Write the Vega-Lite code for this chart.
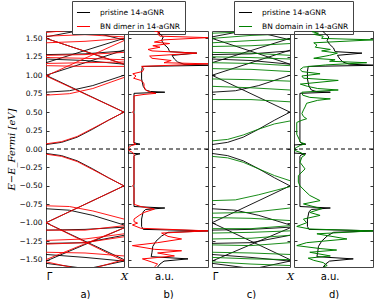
{
"$schema":"https://vega.github.io/schema/vega-lite/v6.json",
"autosize":{"type":"pad"},
"padding":{"left":5,"top":0,"right":0,"bottom":0},
"background":"white",
"config":{"font":"DejaVu Sans","view":{"stroke":"#444","strokeWidth":1},"axis":{"grid":false}},
"datasets":{
"bandP":[
{"b":"P1","k":0,"E":0.06},{"b":"P1","k":0.2,"E":0.09},{"b":"P1","k":0.4,"E":0.16},{"b":"P1","k":0.6,"E":0.27},{"b":"P1","k":0.8,"E":0.39},{"b":"P1","k":1,"E":0.5},
{"b":"P2","k":0,"E":1.0},{"b":"P2","k":1,"E":0.5},
{"b":"P3","k":0,"E":0.77},{"b":"P3","k":0.3,"E":0.79},{"b":"P3","k":0.6,"E":0.86},{"b":"P3","k":1,"E":1.0},
{"b":"P4","k":0,"E":1.0},{"b":"P4","k":1,"E":1.34},
{"b":"P5","k":0,"E":1.17},{"b":"P5","k":1,"E":1.5},
{"b":"P6","k":0,"E":1.5},{"b":"P6","k":1,"E":1.15},
{"b":"P7","k":0,"E":1.28},{"b":"P7","k":0.5,"E":1.29},{"b":"P7","k":1,"E":1.33},
{"b":"P8","k":0,"E":1.22},{"b":"P8","k":0.5,"E":1.2},{"b":"P8","k":1,"E":1.15},
{"b":"P9","k":0,"E":1.52},{"b":"P9","k":0.5,"E":1.62},
{"b":"P10","k":0.45,"E":1.62},{"b":"P10","k":1,"E":1.48},
{"b":"N1","k":0,"E":-0.06},{"b":"N1","k":0.2,"E":-0.09},{"b":"N1","k":0.4,"E":-0.16},{"b":"N1","k":0.6,"E":-0.27},{"b":"N1","k":0.8,"E":-0.39},{"b":"N1","k":1,"E":-0.5},
{"b":"N2","k":0,"E":-1.0},{"b":"N2","k":1,"E":-0.5},
{"b":"N3","k":0,"E":-0.81},{"b":"N3","k":0.3,"E":-0.83},{"b":"N3","k":0.6,"E":-0.9},{"b":"N3","k":1,"E":-1.03},
{"b":"N4","k":0,"E":-1.0},{"b":"N4","k":1,"E":-1.5},
{"b":"N5","k":0,"E":-1.52},{"b":"N5","k":1,"E":-1.07},
{"b":"N6","k":0,"E":-1.28},{"b":"N6","k":0.5,"E":-1.27},{"b":"N6","k":1,"E":-1.17},
{"b":"N7","k":0,"E":-1.1},{"b":"N7","k":0.5,"E":-1.09},{"b":"N7","k":1,"E":-1.06},
{"b":"N8","k":0,"E":-1.43},{"b":"N8","k":0.5,"E":-1.47},{"b":"N8","k":1,"E":-1.52},
{"b":"N9","k":0,"E":-1.55},{"b":"N9","k":0.5,"E":-1.62},
{"b":"N10","k":0.55,"E":-1.62},{"b":"N10","k":1,"E":-1.52}
],
"bandD":[
{"b":"D1","k":0,"E":0.07},{"b":"D1","k":0.2,"E":0.1},{"b":"D1","k":0.4,"E":0.17},{"b":"D1","k":0.6,"E":0.28},{"b":"D1","k":0.8,"E":0.39},{"b":"D1","k":1,"E":0.5},
{"b":"D2","k":0,"E":0.99},{"b":"D2","k":1,"E":0.5},
{"b":"D3","k":0,"E":0.73},{"b":"D3","k":0.3,"E":0.75},{"b":"D3","k":0.6,"E":0.82},{"b":"D3","k":1,"E":0.97},
{"b":"D4","k":0,"E":0.99},{"b":"D4","k":1,"E":1.47},
{"b":"D5","k":0,"E":1.13},{"b":"D5","k":0.5,"E":1.12},{"b":"D5","k":1,"E":1.12},
{"b":"D6","k":0,"E":1.16},{"b":"D6","k":0.5,"E":1.17},{"b":"D6","k":1,"E":1.18},
{"b":"D7","k":0,"E":1.24},{"b":"D7","k":0.5,"E":1.23},{"b":"D7","k":1,"E":1.21},
{"b":"D8","k":0,"E":1.27},{"b":"D8","k":0.5,"E":1.28},{"b":"D8","k":1,"E":1.31},
{"b":"D9","k":0,"E":1.5},{"b":"D9","k":1,"E":1.15},
{"b":"D10","k":0,"E":1.53},{"b":"D10","k":0.5,"E":1.55},{"b":"D10","k":1,"E":1.52},
{"b":"D11","k":0,"E":1.44},{"b":"D11","k":0.5,"E":1.46},{"b":"D11","k":1,"E":1.5},
{"b":"D12","k":0,"E":1.58},{"b":"D12","k":0.4,"E":1.62},
{"b":"DN1","k":0,"E":-0.07},{"b":"DN1","k":0.2,"E":-0.1},{"b":"DN1","k":0.4,"E":-0.17},{"b":"DN1","k":0.6,"E":-0.28},{"b":"DN1","k":0.8,"E":-0.39},{"b":"DN1","k":1,"E":-0.5},
{"b":"DN2","k":0,"E":-1.0},{"b":"DN2","k":1,"E":-0.5},
{"b":"DN3","k":0,"E":-0.77},{"b":"DN3","k":0.3,"E":-0.78},{"b":"DN3","k":0.6,"E":-0.84},{"b":"DN3","k":1,"E":-0.95},
{"b":"DN4","k":0,"E":-1.0},{"b":"DN4","k":1,"E":-1.52},
{"b":"DN5","k":0,"E":-1.1},{"b":"DN5","k":0.5,"E":-1.1},{"b":"DN5","k":1,"E":-1.04},
{"b":"DN6","k":0,"E":-1.24},{"b":"DN6","k":0.5,"E":-1.22},{"b":"DN6","k":1,"E":-1.15},
{"b":"DN7","k":0,"E":-1.29},{"b":"DN7","k":0.5,"E":-1.27},{"b":"DN7","k":1,"E":-1.19},
{"b":"DN8","k":0,"E":-1.4},{"b":"DN8","k":0.5,"E":-1.41},{"b":"DN8","k":1,"E":-1.45},
{"b":"DN9","k":0,"E":-1.5},{"b":"DN9","k":1,"E":-1.07},
{"b":"DN10","k":0,"E":-1.53},{"b":"DN10","k":0.4,"E":-1.62},
{"b":"DN11","k":0.6,"E":-1.62},{"b":"DN11","k":1,"E":-1.5}
],
"bandG":[
{"b":"G1","k":0,"E":0.11},{"b":"G1","k":0.2,"E":0.13},{"b":"G1","k":0.4,"E":0.19},{"b":"G1","k":0.6,"E":0.27},{"b":"G1","k":0.8,"E":0.34},{"b":"G1","k":1,"E":0.38},
{"b":"G2","k":0,"E":0.67},{"b":"G2","k":0.5,"E":0.67},{"b":"G2","k":1,"E":0.64},
{"b":"G3","k":0,"E":0.85},{"b":"G3","k":0.5,"E":0.83},{"b":"G3","k":1,"E":0.8},
{"b":"G4","k":0,"E":0.95},{"b":"G4","k":0.5,"E":0.94},{"b":"G4","k":1,"E":0.92},
{"b":"G5","k":0,"E":1.09},{"b":"G5","k":0.5,"E":1.08},{"b":"G5","k":1,"E":1.05},
{"b":"G6","k":0,"E":1.17},{"b":"G6","k":0.5,"E":1.16},{"b":"G6","k":1,"E":1.13},
{"b":"G7","k":0,"E":1.25},{"b":"G7","k":0.5,"E":1.24},{"b":"G7","k":1,"E":1.22},
{"b":"G8","k":0,"E":1.31},{"b":"G8","k":0.5,"E":1.3},{"b":"G8","k":1,"E":1.27},
{"b":"G9","k":0,"E":1.39},{"b":"G9","k":0.5,"E":1.4},{"b":"G9","k":1,"E":1.43},
{"b":"G10","k":0,"E":1.44},{"b":"G10","k":0.5,"E":1.47},{"b":"G10","k":1,"E":1.49},
{"b":"G11","k":0,"E":1.5},{"b":"G11","k":0.5,"E":1.54},{"b":"G11","k":1,"E":1.56},
{"b":"G12","k":0,"E":1.57},{"b":"G12","k":0.5,"E":1.59},{"b":"G12","k":1,"E":1.58},
{"b":"GN1","k":0,"E":-0.1},{"b":"GN1","k":0.2,"E":-0.12},{"b":"GN1","k":0.4,"E":-0.18},{"b":"GN1","k":0.6,"E":-0.27},{"b":"GN1","k":0.8,"E":-0.36},{"b":"GN1","k":1,"E":-0.43},
{"b":"GN2","k":0,"E":-0.7},{"b":"GN2","k":0.3,"E":-0.69},{"b":"GN2","k":0.6,"E":-0.62},{"b":"GN2","k":1,"E":-0.51},
{"b":"GN3","k":0,"E":-0.87},{"b":"GN3","k":0.5,"E":-0.86},{"b":"GN3","k":1,"E":-0.8},
{"b":"GN4","k":0,"E":-0.93},{"b":"GN4","k":0.5,"E":-0.94},{"b":"GN4","k":1,"E":-0.97},
{"b":"GN5","k":0,"E":-1.08},{"b":"GN5","k":0.5,"E":-1.08},{"b":"GN5","k":1,"E":-1.04},
{"b":"GN6","k":0,"E":-1.14},{"b":"GN6","k":0.5,"E":-1.13},{"b":"GN6","k":1,"E":-1.11},
{"b":"GN7","k":0,"E":-1.22},{"b":"GN7","k":0.5,"E":-1.21},{"b":"GN7","k":1,"E":-1.17},
{"b":"GN8","k":0,"E":-1.3},{"b":"GN8","k":0.5,"E":-1.31},{"b":"GN8","k":1,"E":-1.27},
{"b":"GN9","k":0,"E":-1.4},{"b":"GN9","k":0.5,"E":-1.41},{"b":"GN9","k":1,"E":-1.43},
{"b":"GN10","k":0,"E":-1.47},{"b":"GN10","k":0.5,"E":-1.49},{"b":"GN10","k":1,"E":-1.5},
{"b":"GN11","k":0,"E":-1.53},{"b":"GN11","k":0.5,"E":-1.56},{"b":"GN11","k":1,"E":-1.58}
],
"dosP":[
{"E":-1.6,"v":0.37},{"E":-1.56,"v":0.4},{"E":-1.52,"v":0.45},{"E":-1.49,"v":0.75},{"E":-1.46,"v":0.29},{"E":-1.4,"v":0.3},{"E":-1.32,"v":0.31},{"E":-1.25,"v":0.35},{"E":-1.18,"v":0.42},{"E":-1.13,"v":0.5},{"E":-1.11,"v":1.05},{"E":-1.09,"v":0.19},{"E":-1.05,"v":0.17},{"E":-0.95,"v":0.17},{"E":-0.85,"v":0.19},{"E":-0.82,"v":0.22},{"E":-0.8,"v":0.46},{"E":-0.78,"v":0.075},{"E":-0.1,"v":0.075},{"E":-0.08,"v":0.09},{"E":-0.065,"v":0.15},{"E":-0.055,"v":0},
{"E":0.055,"v":0},{"E":0.065,"v":0.15},{"E":0.08,"v":0.09},{"E":0.1,"v":0.075},{"E":0.755,"v":0.075},{"E":0.77,"v":0.46},{"E":0.78,"v":0.28},{"E":0.8,"v":0.22},{"E":0.85,"v":0.19},{"E":0.95,"v":0.17},{"E":1.05,"v":0.17},{"E":1.12,"v":0.18},{"E":1.135,"v":1.05},{"E":1.15,"v":0.7},{"E":1.18,"v":0.62},{"E":1.22,"v":0.58},{"E":1.27,"v":0.55},{"E":1.3,"v":0.86},{"E":1.32,"v":0.52},{"E":1.37,"v":0.5},{"E":1.42,"v":0.45},{"E":1.47,"v":0.42},{"E":1.52,"v":0.44},{"E":1.56,"v":0.4},{"E":1.6,"v":0.36}
],
"dosD":[
{"E":-1.6,"v":0.33},{"E":-1.56,"v":0.37},{"E":-1.53,"v":0.29},{"E":-1.49,"v":0.18},{"E":-1.45,"v":0.58},{"E":-1.41,"v":0.37},{"E":-1.38,"v":0.67},{"E":-1.36,"v":0.33},{"E":-1.31,"v":0.055},{"E":-1.27,"v":0.37},{"E":-1.22,"v":0.67},{"E":-1.185,"v":0.5},{"E":-1.14,"v":0.42},{"E":-1.11,"v":1.0},{"E":-1.075,"v":0.16},{"E":-1.03,"v":0.055},{"E":-1.005,"v":0.12},{"E":-0.985,"v":0.075},{"E":-0.95,"v":0.075},{"E":-0.9,"v":0.14},{"E":-0.86,"v":0.2},{"E":-0.815,"v":0.33},{"E":-0.78,"v":0.16},{"E":-0.75,"v":0.075},{"E":-0.52,"v":0.075},{"E":-0.5,"v":0.055},{"E":-0.48,"v":0.075},{"E":-0.07,"v":0.075},{"E":-0.045,"v":0.055},{"E":-0.02,"v":0.01},
{"E":0,"v":0},{"E":0.02,"v":0.01},{"E":0.045,"v":0.04},{"E":0.065,"v":0.1},{"E":0.08,"v":0.07},{"E":0.12,"v":0.075},{"E":0.48,"v":0.075},{"E":0.5,"v":0.055},{"E":0.52,"v":0.075},{"E":0.72,"v":0.075},{"E":0.74,"v":0.2},{"E":0.755,"v":0.35},{"E":0.77,"v":0.28},{"E":0.8,"v":0.22},{"E":0.85,"v":0.2},{"E":0.89,"v":0.2},{"E":0.93,"v":0.16},{"E":0.96,"v":0.07},{"E":0.99,"v":0.1},{"E":1.02,"v":0.06},{"E":1.05,"v":0.18},{"E":1.09,"v":0.2},{"E":1.12,"v":0.17},{"E":1.14,"v":0.65},{"E":1.155,"v":1.0},{"E":1.17,"v":0.45},{"E":1.2,"v":0.54},{"E":1.23,"v":0.3},{"E":1.26,"v":0.27},{"E":1.3,"v":0.86},{"E":1.33,"v":0.3},{"E":1.35,"v":0.25},{"E":1.38,"v":0.4},{"E":1.4,"v":0.31},{"E":1.43,"v":0.52},{"E":1.45,"v":0.33},{"E":1.48,"v":0.45},{"E":1.51,"v":1.0},{"E":1.53,"v":0.4},{"E":1.56,"v":0.37},{"E":1.58,"v":0.4},{"E":1.6,"v":0.33}
],
"dosG":[
{"E":-1.6,"v":0.37},{"E":-1.58,"v":0.42},{"E":-1.54,"v":0.37},{"E":-1.51,"v":0.25},{"E":-1.48,"v":0.18},{"E":-1.45,"v":0.46},{"E":-1.4,"v":0.2},{"E":-1.37,"v":0.54},{"E":-1.35,"v":0.33},{"E":-1.31,"v":0.035},{"E":-1.27,"v":0.16},{"E":-1.22,"v":0.67},{"E":-1.15,"v":0.29},{"E":-1.11,"v":1.0},{"E":-1.085,"v":0.2},{"E":-1.05,"v":0.035},{"E":-1.0,"v":0.16},{"E":-0.95,"v":0.12},{"E":-0.9,"v":0.33},{"E":-0.86,"v":0.2},{"E":-0.81,"v":0.35},{"E":-0.745,"v":0.12},{"E":-0.7,"v":0.33},{"E":-0.63,"v":0.2},{"E":-0.57,"v":0.14},{"E":-0.5,"v":0.076},{"E":-0.45,"v":0.055},{"E":-0.36,"v":0.055},{"E":-0.27,"v":0.14},{"E":-0.18,"v":0.076},{"E":-0.11,"v":0.1},{"E":-0.08,"v":0.14},{"E":-0.045,"v":0.076},{"E":-0.02,"v":0.01},
{"E":0,"v":0},{"E":0.02,"v":0.03},{"E":0.05,"v":0.08},{"E":0.07,"v":0.14},{"E":0.09,"v":0.08},{"E":0.11,"v":0.075},{"E":0.2,"v":0.035},{"E":0.36,"v":0.035},{"E":0.39,"v":0.1},{"E":0.41,"v":0.16},{"E":0.44,"v":0.12},{"E":0.48,"v":0.1},{"E":0.53,"v":0.12},{"E":0.57,"v":0.14},{"E":0.62,"v":0.16},{"E":0.66,"v":0.3},{"E":0.68,"v":0.46},{"E":0.7,"v":0.2},{"E":0.73,"v":0.11},{"E":0.77,"v":0.1},{"E":0.8,"v":0.56},{"E":0.82,"v":0.3},{"E":0.85,"v":0.17},{"E":0.88,"v":0.08},{"E":0.93,"v":0.56},{"E":0.96,"v":0.12},{"E":0.99,"v":0.1},{"E":1.02,"v":0.33},{"E":1.05,"v":0.1},{"E":1.08,"v":0.08},{"E":1.11,"v":0.12},{"E":1.14,"v":0.4},{"E":1.17,"v":0.92},{"E":1.19,"v":0.45},{"E":1.21,"v":0.52},{"E":1.23,"v":0.25},{"E":1.27,"v":0.45},{"E":1.3,"v":0.55},{"E":1.33,"v":0.35},{"E":1.35,"v":0.46},{"E":1.38,"v":0.27},{"E":1.41,"v":0.29},{"E":1.44,"v":0.25},{"E":1.48,"v":1.0},{"E":1.5,"v":0.35},{"E":1.53,"v":0.37},{"E":1.555,"v":0.25},{"E":1.57,"v":0.31},{"E":1.59,"v":0.23},{"E":1.6,"v":0.25}
]
},
"bounds":"flush",
"spacing":4,
"resolve":{"scale":{"color":"independent"}},
"hconcat":[
 {"width":78,"height":236,
  "layer":[
   {"data":{"name":"bandP"},"mark":{"type":"line","strokeWidth":0.9,"clip":true},
    "encoding":{
     "x":{"field":"k","type":"quantitative","scale":{"domain":[0,1],"nice":false},"axis":{"values":[0.04,1],"labelExpr":"datum.value < 0.5 ? 'Γ' : 'X'","ticks":false,"domain":false,"grid":false,"labelFlush":false,"labelPadding":4,"labelFontSize":10,"labelColor":"black","labelFont":{"condition":{"test":"datum.value > 0.5","value":"DejaVu Serif"},"value":"DejaVu Sans"},"labelFontStyle":{"condition":{"test":"datum.value > 0.5","value":"italic"},"value":"normal"},"title":"a)","titleFontSize":10,"titleFontWeight":"normal","titleColor":"black","titlePadding":8}},
     "y":{"field":"E","type":"quantitative","scale":{"domain":[-1.6,1.6],"nice":false},"axis":{"orient":"left","values":[-1.5,-1.25,-1,-0.75,-0.5,-0.25,0,0.25,0.5,0.75,1,1.25,1.5],"format":".2f","labelExpr":"replace(datum.label,'-','−')","domain":false,"grid":false,"tickSize":-3,"tickColor":"#333","labelPadding":7,"labelFontSize":7.5,"labelColor":"black","title":"E−E_Fermi [eV]","titleFont":"DejaVu Serif","titleFontStyle":"italic","titleFontWeight":"normal","titleFontSize":10,"titlePadding":3,"titleColor":"black"}},
     "color":{"datum":"pristine 14-aGNR","scale":{"domain":["pristine 14-aGNR","BN dimer in 14-aGNR"],"range":["black","#ff0000"]},"legend":{"orient":"none","legendX":26,"legendY":-30,"title":null,"symbolType":"stroke","symbolSize":170,"symbolStrokeWidth":1,"labelFontSize":7.5,"labelColor":"black","strokeColor":"#444","fillColor":"white","padding":4,"rowPadding":3,"labelOffset":9}},
     "detail":{"field":"b"}}},
   {"data":{"name":"bandD"},"mark":{"type":"line","strokeWidth":0.9,"clip":true},
    "encoding":{
     "x":{"field":"k","type":"quantitative","scale":{"domain":[0,1],"nice":false},"axis":{"values":[0.04,1],"labelExpr":"datum.value < 0.5 ? 'Γ' : 'X'","ticks":false,"domain":false,"grid":false,"labelFlush":false,"labelPadding":4,"labelFontSize":10,"labelColor":"black","labelFont":{"condition":{"test":"datum.value > 0.5","value":"DejaVu Serif"},"value":"DejaVu Sans"},"labelFontStyle":{"condition":{"test":"datum.value > 0.5","value":"italic"},"value":"normal"},"title":"a)","titleFontSize":10,"titleFontWeight":"normal","titleColor":"black","titlePadding":8}},
     "y":{"field":"E","type":"quantitative","scale":{"domain":[-1.6,1.6],"nice":false},"axis":null},
     "color":{"datum":"BN dimer in 14-aGNR","scale":{"domain":["pristine 14-aGNR","BN dimer in 14-aGNR"],"range":["black","#ff0000"]}},
     "detail":{"field":"b"}}},
   {"data":{"values":[{}]},"mark":{"type":"rule","strokeDash":[4,3],"strokeWidth":1,"color":"black"},
    "encoding":{"y":{"datum":0,"type":"quantitative","axis":{"orient":"right","values":[-1.5,-1.25,-1,-0.75,-0.5,-0.25,0,0.25,0.5,0.75,1,1.25,1.5],"labels":false,"domain":false,"grid":false,"tickSize":-3,"tickColor":"#333","title":null}}}}
  ],
  "resolve":{"axis":{"y":"independent"}}
 },
 {"width":80,"height":236,
  "layer":[
   {"data":{"name":"dosP"},"mark":{"type":"line","strokeWidth":1,"clip":true},
    "encoding":{
     "x":{"field":"v","type":"quantitative","scale":{"domain":[0,1],"nice":false},"axis":{"values":[0.45],"labelExpr":"'a.u.'","ticks":false,"domain":false,"grid":false,"labelFlush":false,"labelPadding":4,"labelFontSize":10,"labelColor":"black","title":"b)","titleFontSize":10,"titleFontWeight":"normal","titleColor":"black","titlePadding":8}},
     "y":{"field":"E","type":"quantitative","scale":{"domain":[-1.6,1.6],"nice":false},"axis":{"orient":"left","values":[-1.5,-1.25,-1,-0.75,-0.5,-0.25,0,0.25,0.5,0.75,1,1.25,1.5],"labels":false,"domain":false,"grid":false,"tickSize":-3,"tickColor":"#333","title":null}},
     "color":{"datum":"pristine 14-aGNR","scale":{"domain":["pristine 14-aGNR","BN dimer in 14-aGNR"],"range":["black","#ff0000"]},"legend":null},
     "order":{"field":"E","type":"quantitative"}}},
   {"data":{"name":"dosD"},"mark":{"type":"line","strokeWidth":1,"clip":true},
    "encoding":{
     "x":{"field":"v","type":"quantitative","scale":{"domain":[0,1],"nice":false},"axis":{"values":[0.45],"labelExpr":"'a.u.'","ticks":false,"domain":false,"grid":false,"labelFlush":false,"labelPadding":4,"labelFontSize":10,"labelColor":"black","title":"b)","titleFontSize":10,"titleFontWeight":"normal","titleColor":"black","titlePadding":8}},
     "y":{"field":"E","type":"quantitative","scale":{"domain":[-1.6,1.6],"nice":false},"axis":null},
     "color":{"datum":"BN dimer in 14-aGNR","scale":{"domain":["pristine 14-aGNR","BN dimer in 14-aGNR"],"range":["black","#ff0000"]},"legend":null},
     "order":{"field":"E","type":"quantitative"}}},
   {"data":{"values":[{}]},"mark":{"type":"rule","strokeDash":[4,3],"strokeWidth":1,"color":"black"},
    "encoding":{"y":{"datum":0,"type":"quantitative","axis":{"orient":"right","values":[-1.5,-1.25,-1,-0.75,-0.5,-0.25,0,0.25,0.5,0.75,1,1.25,1.5],"labels":false,"domain":false,"grid":false,"tickSize":-3,"tickColor":"#333","title":null}}}}
  ],
  "resolve":{"axis":{"y":"independent"}}
 },
 {"width":78,"height":236,
  "layer":[
   {"data":{"name":"bandP"},"mark":{"type":"line","strokeWidth":0.9,"clip":true},
    "encoding":{
     "x":{"field":"k","type":"quantitative","scale":{"domain":[0,1],"nice":false},"axis":{"values":[0.04,1],"labelExpr":"datum.value < 0.5 ? 'Γ' : 'X'","ticks":false,"domain":false,"grid":false,"labelFlush":false,"labelPadding":4,"labelFontSize":10,"labelColor":"black","labelFont":{"condition":{"test":"datum.value > 0.5","value":"DejaVu Serif"},"value":"DejaVu Sans"},"labelFontStyle":{"condition":{"test":"datum.value > 0.5","value":"italic"},"value":"normal"},"title":"c)","titleFontSize":10,"titleFontWeight":"normal","titleColor":"black","titlePadding":8}},
     "y":{"field":"E","type":"quantitative","scale":{"domain":[-1.6,1.6],"nice":false},"axis":{"orient":"left","values":[-1.5,-1.25,-1,-0.75,-0.5,-0.25,0,0.25,0.5,0.75,1,1.25,1.5],"labels":false,"domain":false,"grid":false,"tickSize":-3,"tickColor":"#333","title":null}},
     "color":{"datum":"pristine 14-aGNR","scale":{"domain":["pristine 14-aGNR","BN domain in 14-aGNR"],"range":["black","#008000"]},"legend":{"orient":"none","legendX":22,"legendY":-30,"title":null,"symbolType":"stroke","symbolSize":170,"symbolStrokeWidth":1,"labelFontSize":7.5,"labelColor":"black","strokeColor":"#444","fillColor":"white","padding":4,"rowPadding":3,"labelOffset":9}},
     "detail":{"field":"b"}}},
   {"data":{"name":"bandG"},"mark":{"type":"line","strokeWidth":0.9,"clip":true},
    "encoding":{
     "x":{"field":"k","type":"quantitative","scale":{"domain":[0,1],"nice":false},"axis":{"values":[0.04,1],"labelExpr":"datum.value < 0.5 ? 'Γ' : 'X'","ticks":false,"domain":false,"grid":false,"labelFlush":false,"labelPadding":4,"labelFontSize":10,"labelColor":"black","labelFont":{"condition":{"test":"datum.value > 0.5","value":"DejaVu Serif"},"value":"DejaVu Sans"},"labelFontStyle":{"condition":{"test":"datum.value > 0.5","value":"italic"},"value":"normal"},"title":"c)","titleFontSize":10,"titleFontWeight":"normal","titleColor":"black","titlePadding":8}},
     "y":{"field":"E","type":"quantitative","scale":{"domain":[-1.6,1.6],"nice":false},"axis":null},
     "color":{"datum":"BN domain in 14-aGNR","scale":{"domain":["pristine 14-aGNR","BN domain in 14-aGNR"],"range":["black","#008000"]}},
     "detail":{"field":"b"}}},
   {"data":{"values":[{}]},"mark":{"type":"rule","strokeDash":[4,3],"strokeWidth":1,"color":"black"},
    "encoding":{"y":{"datum":0,"type":"quantitative","axis":{"orient":"right","values":[-1.5,-1.25,-1,-0.75,-0.5,-0.25,0,0.25,0.5,0.75,1,1.25,1.5],"labels":false,"domain":false,"grid":false,"tickSize":-3,"tickColor":"#333","title":null}}}}
  ],
  "resolve":{"axis":{"y":"independent"}}
 },
 {"width":79,"height":236,
  "layer":[
   {"data":{"name":"dosP"},"mark":{"type":"line","strokeWidth":1,"clip":true},
    "encoding":{
     "x":{"field":"v","type":"quantitative","scale":{"domain":[0,1],"nice":false},"axis":{"values":[0.45],"labelExpr":"'a.u.'","ticks":false,"domain":false,"grid":false,"labelFlush":false,"labelPadding":4,"labelFontSize":10,"labelColor":"black","title":"d)","titleFontSize":10,"titleFontWeight":"normal","titleColor":"black","titlePadding":8}},
     "y":{"field":"E","type":"quantitative","scale":{"domain":[-1.6,1.6],"nice":false},"axis":{"orient":"left","values":[-1.5,-1.25,-1,-0.75,-0.5,-0.25,0,0.25,0.5,0.75,1,1.25,1.5],"labels":false,"domain":false,"grid":false,"tickSize":-3,"tickColor":"#333","title":null}},
     "color":{"datum":"pristine 14-aGNR","scale":{"domain":["pristine 14-aGNR","BN domain in 14-aGNR"],"range":["black","#008000"]},"legend":null},
     "order":{"field":"E","type":"quantitative"}}},
   {"data":{"name":"dosG"},"mark":{"type":"line","strokeWidth":1,"clip":true},
    "encoding":{
     "x":{"field":"v","type":"quantitative","scale":{"domain":[0,1],"nice":false},"axis":{"values":[0.45],"labelExpr":"'a.u.'","ticks":false,"domain":false,"grid":false,"labelFlush":false,"labelPadding":4,"labelFontSize":10,"labelColor":"black","title":"d)","titleFontSize":10,"titleFontWeight":"normal","titleColor":"black","titlePadding":8}},
     "y":{"field":"E","type":"quantitative","scale":{"domain":[-1.6,1.6],"nice":false},"axis":null},
     "color":{"datum":"BN domain in 14-aGNR","scale":{"domain":["pristine 14-aGNR","BN domain in 14-aGNR"],"range":["black","#008000"]},"legend":null},
     "order":{"field":"E","type":"quantitative"}}},
   {"data":{"values":[{}]},"mark":{"type":"rule","strokeDash":[4,3],"strokeWidth":1,"color":"black"},
    "encoding":{"y":{"datum":0,"type":"quantitative","axis":{"orient":"right","values":[-1.5,-1.25,-1,-0.75,-0.5,-0.25,0,0.25,0.5,0.75,1,1.25,1.5],"labels":false,"domain":false,"grid":false,"tickSize":-3,"tickColor":"#333","title":null}}}}
  ],
  "resolve":{"axis":{"y":"independent"}}
 }
]
}
